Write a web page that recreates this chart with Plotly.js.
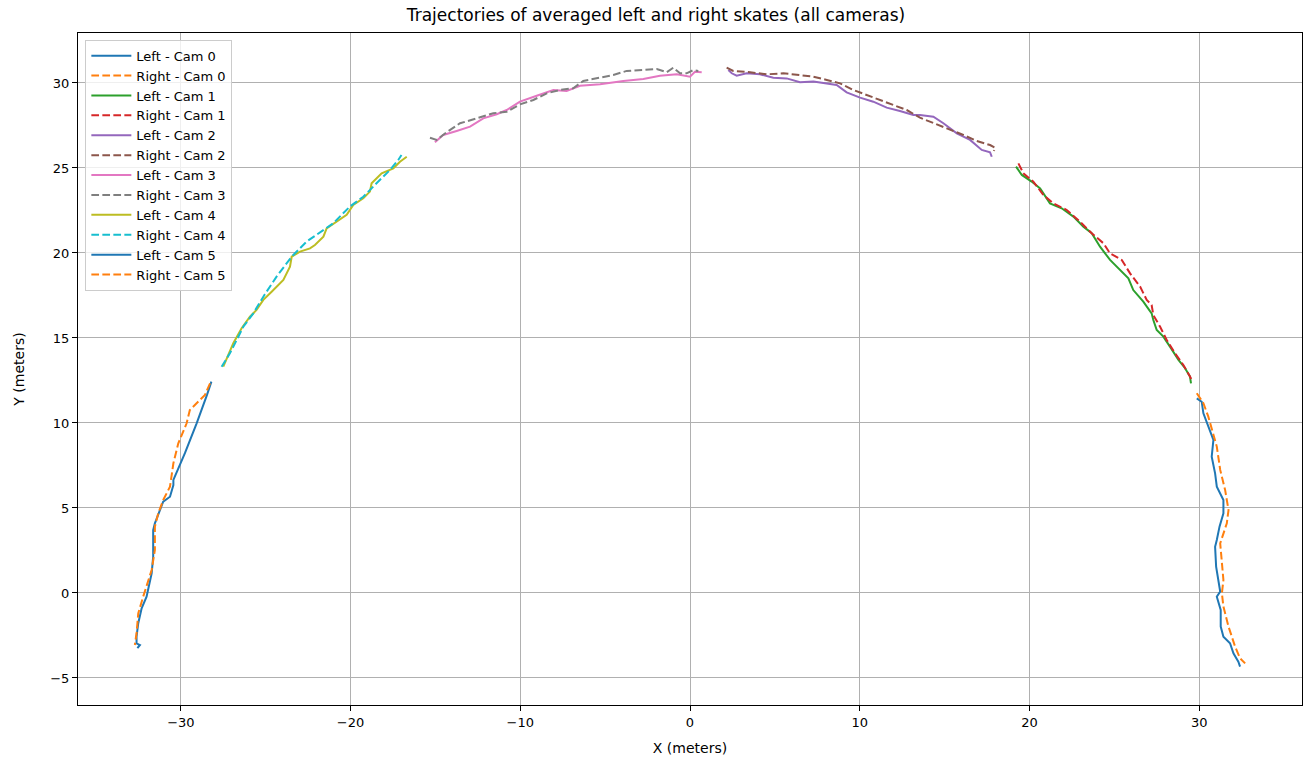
<!DOCTYPE html>
<html><head><meta charset="utf-8">
<script src="https://cdn.plot.ly/plotly-3.0.1.min.js"></script>
<style>html,body{margin:0;padding:0;background:#fff}#chart{width:1312px;height:766px}</style>
</head><body><div id="chart"></div>
<script>
// Cam 0
const cam0LeftX = [-28.2,-28.46,-29.07,-29.76,-30.44,-30.44,-30.64,-31.04,-31.53,-31.63,-31.63,-31.72,-32.02,-32.31,-32.51,-32.61,-32.61,-32.41,-32.56];
const cam0LeftY = [12.43,11.65,9.98,8.22,6.65,6.35,5.66,5.37,4.1,3.7,2.14,1.16,-0.22,-0.9,-1.78,-2.57,-2.96,-3.06,-3.25];
const cam0RightX = [-28.28,-28.58,-29.47,-29.66,-30.15,-30.44,-30.64,-31.04,-31.33,-31.53,-31.53,-31.72,-32.22,-32.51,-32.61,-32.71];
const cam0RightY = [12.33,11.65,10.76,9.98,8.8,7.63,6.25,5.47,4.69,3.9,2.53,1.35,-0.22,-1.2,-2.37,-3.06];
// Cam 1
const cam1LeftX = [19.21,19.55,20.13,20.63,21.21,21.9,22.59,23.18,23.67,24.16,24.75,25.24,25.83,26.12,26.71,27.2,27.3,27.5,27.89,28.28,28.78,29.17,29.46,29.52];
const cam1LeftY = [25.08,24.59,24.2,23.8,22.92,22.63,22.14,21.55,21.16,20.37,19.59,19.1,18.51,17.82,17.14,16.45,16.06,15.47,15.08,14.49,13.71,13.22,12.73,12.33];
const cam1RightX = [19.35,19.64,20.23,20.82,21.41,22.2,22.98,23.67,24.36,24.75,25.44,25.93,26.52,26.91,27.2,27.3,27.7,28.09,28.58,29.07,29.46,29.56];
const cam1RightY = [25.27,24.69,24.2,23.41,22.92,22.53,21.84,21.16,20.57,19.98,19.59,18.8,18.02,17.24,16.94,16.35,15.66,14.88,14.1,13.41,12.73,12.53];
// Cam 2
const cam2LeftX = [2.26,2.46,2.75,3.34,4.12,4.91,5.7,6.48,7.27,8.06,8.64,9.23,10.02,10.8,11.59,12.37,13.16,13.55,14.34,14.93,15.72,16.5,17.19,17.68,17.78];
const cam2LeftY = [30.76,30.57,30.43,30.57,30.51,30.31,30.27,30.04,30.08,29.98,29.88,29.45,29.14,28.9,28.55,28.35,28.12,28.12,28.02,27.63,27.04,26.65,26.06,25.92,25.66];
const cam2RightX = [2.16,2.55,3.54,4.52,5.5,6.48,7.27,8.06,8.84,9.62,10.41,11.2,11.98,12.77,13.55,14.34,15.13,16.11,16.89,17.68,17.97,17.91];
const cam2RightY = [30.9,30.71,30.63,30.51,30.57,30.47,30.37,30.18,29.98,29.59,29.29,29.0,28.71,28.41,27.96,27.63,27.33,26.94,26.59,26.35,26.2,26.0];
// Cam 3
const cam3LeftX = [-15.03,-14.54,-13.75,-12.96,-12.18,-11.39,-10.8,-10.02,-9.03,-8.05,-7.27,-6.48,-5.3,-3.93,-2.75,-1.77,-0.78,0.0,0.29,0.69];
const cam3LeftY = [26.51,26.94,27.18,27.43,27.92,28.16,28.41,28.9,29.25,29.59,29.53,29.84,29.92,30.12,30.24,30.43,30.51,30.37,30.66,30.63];
const cam3RightX = [-15.32,-14.93,-14.34,-13.55,-12.57,-11.59,-10.8,-10.02,-9.23,-8.44,-7.66,-6.88,-6.29,-5.5,-4.52,-3.73,-2.75,-1.96,-1.37,-0.98,-0.59,-0.2,0.2,0.49];
const cam3RightY = [26.78,26.65,27.1,27.63,27.92,28.22,28.31,28.74,29.0,29.39,29.59,29.69,30.12,30.27,30.47,30.71,30.76,30.82,30.63,30.9,30.57,30.57,30.76,30.71];
// Cam 4
const cam4LeftX = [-27.5,-27.3,-26.91,-26.42,-25.93,-25.54,-25.14,-24.65,-23.96,-23.57,-23.47,-22.98,-22.39,-22.1,-21.6,-21.41,-20.82,-20.23,-19.84,-19.25,-18.86,-18.76,-18.17,-17.48,-17.09,-16.69];
const cam4LeftY = [13.31,13.8,14.69,15.57,16.25,16.65,17.24,17.72,18.41,19.2,19.78,20.08,20.27,20.47,20.96,21.45,21.84,22.24,22.82,23.22,23.61,24.1,24.69,24.98,25.37,25.66];
const cam4RightX = [-27.6,-27.11,-26.71,-26.32,-25.73,-25.14,-24.36,-23.47,-22.59,-21.9,-21.02,-20.04,-19.25,-18.47,-17.68,-17.19,-17.0];
const cam4RightY = [13.31,14.1,14.88,15.66,16.45,17.43,18.61,19.78,20.67,21.16,21.75,22.73,23.31,24.1,24.88,25.47,25.76];
// Cam 5
const cam5LeftX = [29.86,30.15,30.25,30.54,30.84,30.74,30.94,31.04,31.43,31.43,31.2,31.04,30.94,31.0,31.14,31.24,31.04,31.27,31.27,31.43,31.82,32.02,32.31,32.41];
const cam5LeftY = [11.45,11.25,10.57,9.78,9.0,8.02,7.04,6.25,5.47,4.69,3.9,3.12,2.72,1.55,0.57,0.08,-0.22,-1.0,-1.98,-2.57,-2.96,-3.55,-4.04,-4.33];
const cam5RightX = [29.86,30.25,30.54,30.84,31.04,31.24,31.53,31.73,31.63,31.24,31.34,31.43,31.34,31.43,31.73,32.12,32.41,32.71];
const cam5RightY = [11.75,11.16,10.37,9.39,8.61,7.24,6.06,4.88,4.1,2.92,1.94,0.76,-0.02,-0.8,-1.98,-3.16,-3.84,-4.14];

const seriesNames = ['Left - Cam 0','Right - Cam 0','Left - Cam 1','Right - Cam 1','Left - Cam 2','Right - Cam 2','Left - Cam 3','Right - Cam 3','Left - Cam 4','Right - Cam 4','Left - Cam 5','Right - Cam 5'];
const seriesX = [cam0LeftX,cam0RightX,cam1LeftX,cam1RightX,cam2LeftX,cam2RightX,cam3LeftX,cam3RightX,cam4LeftX,cam4RightX,cam5LeftX,cam5RightX];
const seriesY = [cam0LeftY,cam0RightY,cam1LeftY,cam1RightY,cam2LeftY,cam2RightY,cam3LeftY,cam3RightY,cam4LeftY,cam4RightY,cam5LeftY,cam5RightY];
const colors = ['#1f77b4','#ff7f0e','#2ca02c','#d62728','#9467bd','#8c564b','#e377c2','#7f7f7f','#bcbd22','#17becf','#1f77b4','#ff7f0e'];

const traces = seriesNames.map((n,i)=>({
  type:'scatter', mode:'lines', name:n, x:seriesX[i], y:seriesY[i],
  line:{color:colors[i], width:2, dash: i%2===1 ? '7.7px,3.3px' : 'solid'}
}));

const axisCommon = {
  showgrid:true, gridcolor:'#b0b0b0', gridwidth:1, zeroline:false,
  showline:true, linecolor:'#000', linewidth:1, mirror:true,
  ticks:'outside', ticklen:5, tickcolor:'#000', tickwidth:1,
  tickfont:{family:'DejaVu Sans', size:13, color:'#000'}
};

const layout = {
  width:1312, height:766,
  margin:{l:78, r:10, t:33, b:61},
  paper_bgcolor:'#fff', plot_bgcolor:'#fff',
  font:{family:'DejaVu Sans', color:'#000'},
  title:{text:'Trajectories of averaged left and right skates (all cameras)', font:{family:'DejaVu Sans', size:17, color:'#000'}, x:0.5, xanchor:'center', y:0.98, yanchor:'middle'},
  xaxis:Object.assign({}, axisCommon, {range:[-36.06,36.06], dtick:10, tick0:0, title:{text:'X (meters)', font:{size:14}, standoff:14}}),
  yaxis:Object.assign({}, axisCommon, {range:[-6.59,32.94], dtick:5, tick0:0, title:{text:'Y (meters)', font:{size:14}, standoff:22}}),
  showlegend:true,
  legend:{x:0.006, y:0.99, xanchor:'left', yanchor:'top', bgcolor:'rgba(255,255,255,0.8)', bordercolor:'#cccccc', borderwidth:1, font:{family:'DejaVu Sans', size:13, color:'#000'}, tracegroupgap:0, itemwidth:40}
};

Plotly.newPlot('chart', traces, layout, {displayModeBar:false, staticPlot:true});
</script></body></html>
